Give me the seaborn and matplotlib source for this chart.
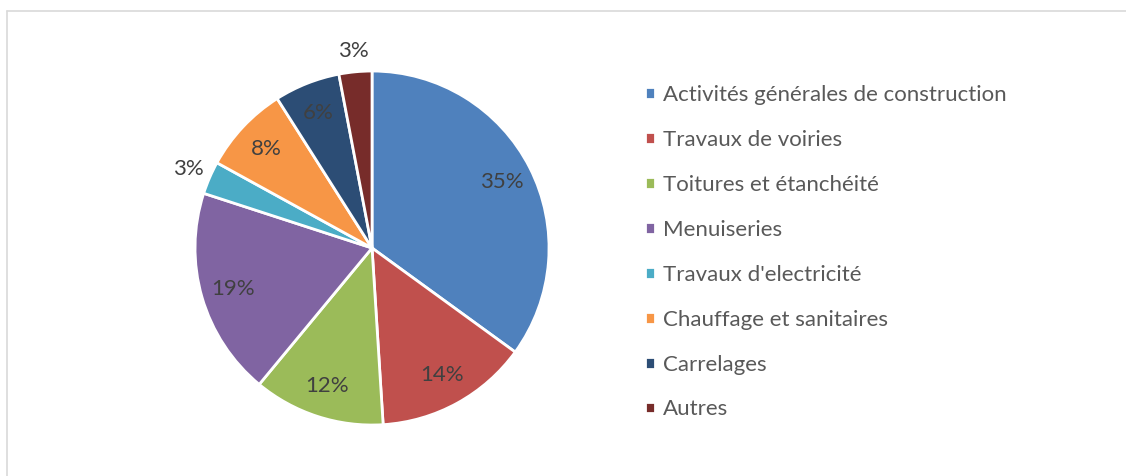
import matplotlib
matplotlib.use("Agg")
import matplotlib.pyplot as plt
import seaborn as sns
from matplotlib.lines import Line2D
import numpy as np

# chart data
categories = [
    "Activités générales de construction",
    "Travaux de voiries",
    "Toitures et étanchéité",
    "Menuiseries",
    "Travaux d'electricité",
    "Chauffage et sanitaires",
    "Carrelages",
    "Autres",
]
shares = [35, 14, 12, 19, 3, 8, 6, 3]
colors = ["#4F81BD", "#C0504D", "#9BBB59", "#8064A2",
          "#4BACC6", "#F79646", "#2C4D75", "#772C2A"]

sns.set_theme(style="white")
plt.rcParams["font.family"] = ["Lato", "DejaVu Sans"]

fig = plt.figure(figsize=(11.26, 4.76), dpi=100)
ax = fig.add_axes([0.1732, 0.1071, 0.3144, 0.7437])

wedges, texts, autotexts = ax.pie(
    shares,
    colors=colors,
    startangle=90,
    counterclock=False,
    autopct="%1.0f%%",
    pctdistance=0.82,
    wedgeprops=dict(edgecolor="white", linewidth=2),
    textprops=dict(color="#404040", fontsize=16),
)
ax.set_xlim(-1, 1)
ax.set_ylim(-1, 1)
ax.set_aspect("equal")
ax.axis("off")

# small slices get their labels outside
for w, t, v in zip(wedges, autotexts, shares):
    if v <= 3:
        ang = np.deg2rad((w.theta1 + w.theta2) / 2)
        t.set_position((1.13 * np.cos(ang), 1.12 * np.sin(ang)))

fig.legend(
    wedges, categories,
    loc="upper left", bbox_to_anchor=(0.5555, 0.863),
    frameon=False, fontsize=16, labelcolor="#595959",
    handlelength=0.45, handleheight=0.45, handletextpad=0.35,
    labelspacing=1.12,
)

# chart area border (only top and left visible)
fig.add_artist(Line2D([0.0065, 1.0], [0.977, 0.977], color="#D9D9D9", lw=1.2))
fig.add_artist(Line2D([0.0065, 0.0065], [0.0, 0.977], color="#D9D9D9", lw=1.2))

fig.savefig("out.png", dpi=100)
